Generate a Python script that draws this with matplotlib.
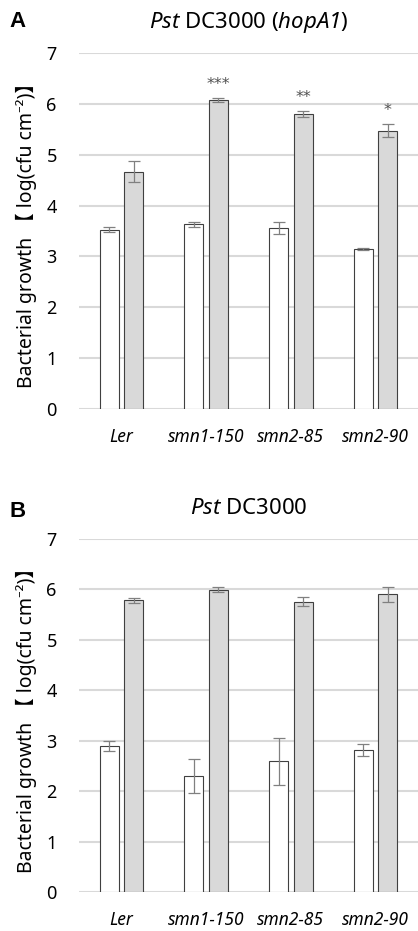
import numpy as np
import matplotlib.pyplot as plt

plt.rcParams['font.family'] = ['Noto Sans', 'Noto Sans CJK JP', 'DejaVu Sans']
plt.rcParams['mathtext.fontset'] = 'custom'
plt.rcParams['mathtext.rm'] = 'Noto Sans:italic'
plt.rcParams['mathtext.it'] = 'Noto Sans:italic'

genotypes = ['Ler', 'smn1-150', 'smn2-85', 'smn2-90']

# panel A: Pst DC3000 (hopA1)
a_day0 = [3.53, 3.63, 3.56, 3.14]
a_day0_err = [0.05, 0.05, 0.11, 0.02]
a_day3 = [4.67, 6.08, 5.80, 5.47]
a_day3_err = [0.20, 0.04, 0.06, 0.13]
a_stars = ['', '***', '**', '*']

# panel B: Pst DC3000
b_day0 = [2.90, 2.30, 2.59, 2.82]
b_day0_err = [0.10, 0.33, 0.47, 0.12]
b_day3 = [5.78, 5.99, 5.75, 5.90]
b_day3_err = [0.05, 0.05, 0.09, 0.15]

ylabel = 'Bacterial growth \u3010 log(cfu cm\u207b\u00b2)\u3011'


def panel(ax, d0, e0, d3, e3, title, stars=None):
    x = np.arange(len(genotypes))
    w = 0.225
    off = 0.145
    ax.bar(x - off, d0, w, color='white', edgecolor='#404040', linewidth=0.8, zorder=3)
    ax.bar(x + off, d3, w, color='#d9d9d9', edgecolor='#404040', linewidth=0.8, zorder=3)
    ax.errorbar(x - off, d0, yerr=e0, fmt='none', ecolor='#808080', elinewidth=0.9,
                capsize=4.5, capthick=0.9, zorder=4)
    ax.errorbar(x + off, d3, yerr=e3, fmt='none', ecolor='#808080', elinewidth=0.9,
                capsize=4.5, capthick=0.9, zorder=4)
    if stars:
        for xi, v, e, s in zip(x, d3, e3, stars):
            if s:
                ax.text(xi + off, v + e + 0.12, s, ha='center', va='bottom',
                        fontsize=11.5, color='#505050', family='DejaVu Sans')
    ax.set_xlim(-0.5, 3.5)
    ax.set_ylim(0, 7)
    ax.set_yticks(range(8))
    ax.yaxis.grid(True, color='#d9d9d9', linewidth=1.5, zorder=0)
    ax.set_axisbelow(True)
    for s in ax.spines.values():
        s.set_visible(False)
    ax.set_xticks(x)
    ax.set_xticklabels(genotypes, style='italic', fontsize=12.5)
    ax.tick_params(axis='x', length=0, pad=14)
    ax.tick_params(axis='y', length=0, pad=16, labelsize=13)
    ax.set_ylabel(ylabel, fontsize=14, labelpad=7)
    ax.set_title(title, fontsize=16, pad=18)


fig = plt.figure(figsize=(4.18, 9.31), dpi=100)
ax1 = fig.add_axes([0.189, 0.5607, 0.811, 0.3823])
ax2 = fig.add_axes([0.189, 0.0419, 0.811, 0.3796])

panel(ax1, a_day0, a_day0_err, a_day3, a_day3_err,
      r'$Pst$ DC3000 ($hopA1$)', a_stars)
panel(ax2, b_day0, b_day0_err, b_day3, b_day3_err, r'$Pst$ DC3000')

fig.text(0.022, 0.977, 'A', fontsize=16, fontweight='bold', family='Liberation Sans', va='center')
fig.text(0.022, 0.451, 'B', fontsize=16, fontweight='bold', family='Liberation Sans', va='center')

fig.savefig('out.png', dpi=100)
